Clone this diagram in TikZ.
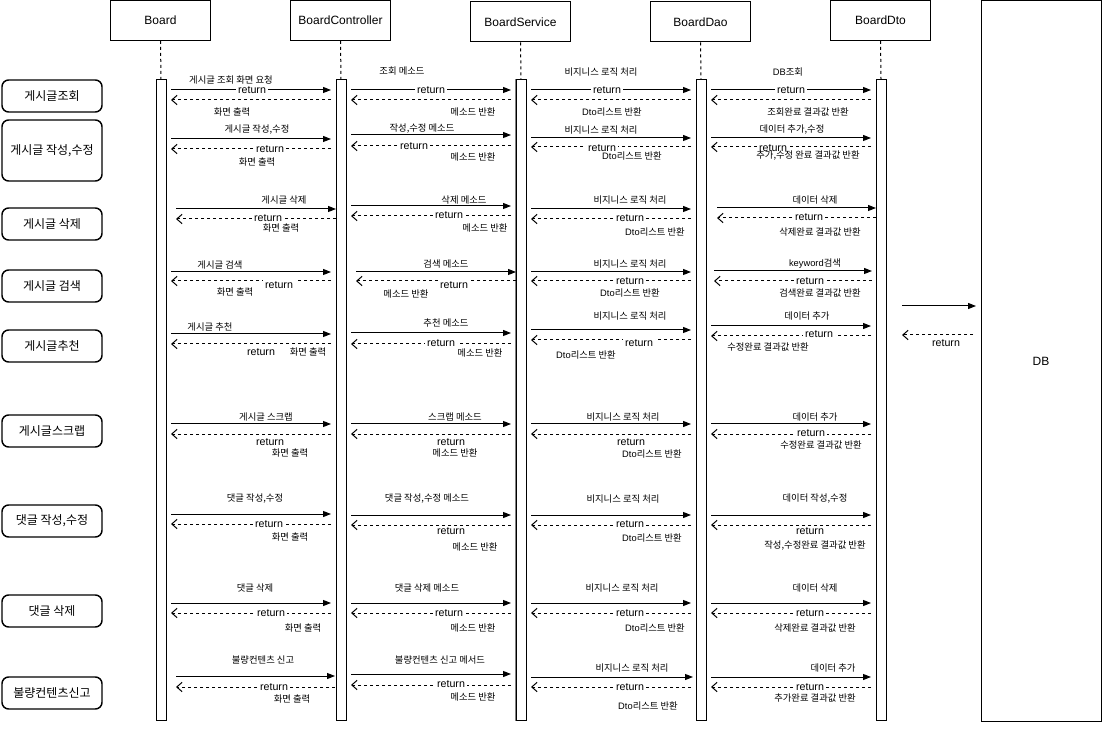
\documentclass[tikz,border=0pt]{standalone}
\usepackage{fontspec}
\setmainfont{Liberation Sans}
\newfontfamily\kr{Noto Sans CJK KR}
\newfontfamily\lat{Liberation Sans}
\usetikzlibrary{arrows.meta}
\tikzset{
  hdr/.style={draw, fill=white, minimum width=75pt, minimum height=30pt, font=\fontsize{9}{10}\selectfont, inner sep=0pt},
  actbar/.style={draw, fill=white, minimum width=7.5pt, minimum height=480pt, inner sep=0pt},
  lifeline/.style={dash pattern=on 2.25pt off 2.25pt},
  sidebox/.style={draw, rounded corners=5pt, line width=1.1pt, minimum width=75pt, minimum height=24pt, font=\kr\fontsize{9}{10}\selectfont, inner sep=0pt},
  lbl/.style={font=\kr\fontsize{7}{8}\selectfont, inner sep=0pt},
  retlbl/.style={font=\fontsize{8}{9}\selectfont, fill=white, inner xsep=1.5pt, inner ysep=1pt},
  callln/.style={-{Triangle[length=6pt,width=4.5pt]}},
  backln/.style={dash pattern=on 2.25pt off 2.25pt, -{Straight Barb[length=4pt,width=7pt]}},
}
\newcommand\call[4]{\coordinate (#1s) at (#2,#4);\coordinate (#1e) at (#3,#4);\draw[callln] (#1s) -- (#1e);}
\newcommand\back[4]{\coordinate (#1s) at (#2,#4);\coordinate (#1e) at (#3,#4);\draw[backln] (#1s) -- (#1e);}
\newcommand\lab[4]{\node[lbl] (#1) at (#2,#3) {#4};}
\newcommand\ret[3]{\node[retlbl] (#1) at (#2,#3) {return};}
\begin{document}
\begin{tikzpicture}[x=0.75pt, y=-0.75pt, line width=0.75pt]
\useasboundingbox (0,0) rectangle (1102,730);
% headers
\node[hdr] (hB) at (160.5,20.5) {Board};
\node[hdr] (hC) at (340.5,20.5) {BoardController};
\node[hdr] (hS) at (520.5,22) {BoardService};
\node[hdr] (hD) at (700.5,22) {BoardDao};
\node[hdr] (hT) at (880.5,20.5) {BoardDto};
\node[draw, minimum width=90pt, minimum height=540pt, inner sep=0pt, font=\fontsize{9}{10}\selectfont] (db) at (1041,361) {DB};
% activation bars
\node[actbar] (bB) at (161,400) {};
\node[actbar] (bC) at (341,400) {};
\node[actbar] (bS) at (521,400) {};
\draw[black!50, line width=1.3pt] (bS.north west) -- (bS.south west);
\node[actbar] (bD) at (701,400) {};
\node[actbar] (bT) at (881,400) {};
\foreach \h/\b in {hB/bB,hC/bC,hS/bS,hD/bD,hT/bT}{\draw[lifeline] (\h.south) -- (\b.north);}
% side labels
\node[sidebox] (s1) at (52,96) {게시글조회};
\node[sidebox, minimum height=45.75pt] (s2) at (52,150.5) {게시글 작성,수정};
\node[sidebox] (s3) at (52,224) {게시글 삭제};
\node[sidebox] (s4) at (52,286) {게시글 검색};
\node[sidebox] (s5) at (52,346) {게시글추천};
\node[sidebox] (s6) at (52,431) {게시글스크랩};
\node[sidebox] (s7) at (52,521) {댓글 작성,수정};
\node[sidebox] (s8) at (52,611) {댓글 삭제};
\node[sidebox] (s9) at (52,693) {불량컨텐츠신고};
% ---------- row 1
\lab{t1a}{231}{80}{게시글 조회 화면 요청}
\call{c1a}{171}{331}{90}\ret{q1a}{252}{90}
\back{d1a}{331}{171}{100}
\lab{u1a}{232}{112}{화면 출력}
\lab{t1b}{402}{71}{조회 메소드}
\call{c1b}{351}{511}{90}\ret{q1b}{431}{90}
\back{d1b}{511}{351}{100}
\lab{u1b}{473}{112}{메소드 반환}
\lab{t1c}{601}{72}{비지니스 로직 처리}
\call{c1c}{531}{691}{90}\ret{q1c}{607}{90}
\back{d1c}{691}{531}{100}
\lab{u1c}{612}{112}{{\lat Dto}리스트 반환}
\lab{t1d}{788}{72}{{\lat DB}조회}
\call{c1d}{711}{871}{90}\ret{q1d}{791}{90}
\back{d1d}{871}{711}{100}
\lab{u1d}{808}{112}{조회완료 결과값 반환}
% ---------- row 2
\lab{t2a}{257}{130}{게시글 작성,수정}
\call{c2a}{171}{331}{139}
\back{d2a}{331}{171}{149}\ret{q2a}{270}{149}
\lab{u2a}{257}{162}{화면 출력}
\lab{t2b}{422}{129}{작성,수정 메소드}
\call{c2b}{351}{511}{135}
\back{d2b}{511}{351}{146}\ret{q2b}{414}{146}
\lab{u2b}{473}{157}{메소드 반환}
\lab{t2c}{601}{130}{비지니스 로직 처리}
\call{c2c}{531}{691}{138}
\back{d2c}{691}{531}{147}\ret{q2c}{602}{148}
\lab{u2c}{632}{156}{{\lat Dto}리스트 반환}
\lab{t2d}{792}{130}{데이터 추가,수정}
\call{c2d}{711}{871}{138}
\back{d2d}{871}{711}{147}\ret{q2d}{773}{148}
\lab{u2d}{808}{156}{추가,수정 완료 결과값 반환}
% ---------- row 3
\lab{t3a}{284}{200}{게시글 삭제}
\call{c3a}{176}{336}{209}
\back{d3a}{336}{176}{219}\ret{q3a}{268}{218}
\lab{u3a}{281}{228}{화면 출력}
\lab{t3b}{464}{200}{삭제 메소드}
\call{c3b}{351}{511}{206}
\back{d3b}{511}{351}{216}\ret{q3b}{449}{215}
\lab{u3b}{485}{228}{메소드 반환}
\lab{t3c}{630}{200}{비지니스 로직 처리}
\call{c3c}{531}{691}{209}
\back{d3c}{691}{531}{219}\ret{q3c}{630}{218}
\lab{u3c}{655}{232}{{\lat Dto}리스트 반환}
\lab{t3d}{815}{200}{데이터 삭제}
\call{c3d}{717}{876}{208}
\back{d3d}{876}{717}{218}\ret{q3d}{809}{217}
\lab{u3d}{820}{232}{삭제완료 결과값 반환}
% ---------- row 4
\lab{t4a}{220}{265}{게시글 검색}
\call{c4a}{171}{331}{272}
\back{d4a}{331}{171}{281}\ret{q4a}{279}{285}
\lab{u4a}{235}{292}{화면 출력}
\lab{t4b}{446}{264}{검색 메소드}
\call{c4b}{356}{516}{272}
\back{d4b}{516}{356}{281}\ret{q4b}{454}{285}
\lab{u4b}{406}{294}{메소드 반환}
\lab{t4c}{630}{264}{비지니스 로직 처리}
\call{c4c}{531}{691}{272}
\back{d4c}{691}{531}{281}\ret{q4c}{630}{281}
\lab{u4c}{630}{293}{{\lat Dto}리스트 반환}
\lab{t4d}{815}{264}{{\lat keyword}검색}
\call{c4d}{714}{872}{271}
\back{d4d}{872}{714}{281}\ret{q4d}{810}{281}
\lab{u4d}{820}{293}{검색완료 결과값 반환}
% ---------- row 5
\lab{t5a}{210}{327}{게시글 추천}
\call{c5a}{171}{331}{334}
\back{d5a}{331}{171}{344}\ret{q5a}{261}{352}
\lab{u5a}{308}{352}{화면 출력}
\lab{t5b}{446}{323}{추천 메소드}
\call{c5b}{351}{511}{333}
\back{d5b}{511}{351}{344}\ret{q5b}{441}{343}
\lab{u5b}{480}{353}{메소드 반환}
\lab{t5c}{630}{316}{비지니스 로직 처리}
\call{c5c}{531}{691}{330}
\back{d5c}{691}{531}{340}\ret{q5c}{639}{343}
\lab{u5c}{586}{355}{{\lat Dto}리스트 반환}
\lab{t5d}{807}{316}{데이터 추가}
\call{c5d}{711}{871}{326}
\back{d5d}{871}{711}{336}\ret{q5d}{819}{334}
\lab{u5d}{768}{347}{수정완료 결과값 반환}
\call{c5e}{902}{976}{306}
\back{d5e}{973}{902}{335}\ret{q5e}{946}{343}
% ---------- row 6
\lab{t6a}{266}{417}{게시글 스크랩}
\call{c6a}{171}{331}{424}
\back{d6a}{331}{171}{434}\ret{q6a}{270}{442}
\lab{u6a}{290}{453}{화면 출력}
\lab{t6b}{455}{417}{스크랩 메소드}
\call{c6b}{351}{511}{424}
\back{d6b}{511}{351}{434}\ret{q6b}{451}{442}
\lab{u6b}{455}{453}{메소드 반환}
\lab{t6c}{623}{417}{비지니스 로직 처리}
\call{c6c}{531}{691}{424}
\back{d6c}{691}{531}{434}\ret{q6c}{631}{442}
\lab{u6c}{652}{454}{{\lat Dto}리스트 반환}
\lab{t6d}{815}{417}{데이터 추가}
\call{c6d}{711}{871}{424}
\back{d6d}{871}{711}{434}\ret{q6d}{811}{433}
\lab{u6d}{821}{445}{수정완료 결과값 반환}
% ---------- row 7
\lab{t7a}{255}{499}{댓글 작성,수정}
\call{c7a}{171}{331}{514}
\back{d7a}{331}{171}{524}\ret{q7a}{269}{524}
\lab{u7a}{290}{537}{화면 출력}
\lab{t7b}{427}{499}{댓글 작성,수정 메소드}
\call{c7b}{351}{511}{515}
\back{d7b}{511}{351}{525}\ret{q7b}{451}{531}
\lab{u7b}{475}{547}{메소드 반환}
\lab{t7c}{623}{499}{비지니스 로직 처리}
\call{c7c}{531}{691}{515}
\back{d7c}{691}{531}{525}\ret{q7c}{630}{524}
\lab{u7c}{652}{538}{{\lat Dto}리스트 반환}
\lab{t7d}{815}{499}{데이터 작성,수정}
\call{c7d}{711}{871}{515}
\back{d7d}{871}{711}{525}\ret{q7d}{810}{531}
\lab{u7d}{815}{546}{작성,수정완료 결과값 반환}
% ---------- row 8
\lab{t8a}{255}{588}{댓글 삭제}
\call{c8a}{171}{331}{603}
\back{d8a}{331}{171}{613}\ret{q8a}{271}{613}
\lab{u8a}{303}{628}{화면 출력}
\lab{t8b}{427}{588}{댓글 삭제 메소드}
\call{c8b}{351}{511}{603}
\back{d8b}{511}{351}{613}\ret{q8b}{449}{613}
\lab{u8b}{473}{628}{메소드 반환}
\lab{t8c}{622}{588}{비지니스 로직 처리}
\call{c8c}{531}{691}{603}
\back{d8c}{691}{531}{613}\ret{q8c}{630}{613}
\lab{u8c}{655}{628}{{\lat Dto}리스트 반환}
\lab{t8d}{815}{588}{데이터 삭제}
\call{c8d}{711}{871}{603}
\back{d8d}{871}{711}{613}\ret{q8d}{810}{613}
\lab{u8d}{815}{628}{삭제완료 결과값 반환}
% ---------- row 9
\lab{t9a}{263}{660}{불량컨텐츠 신고}
\call{c9a}{176}{335}{676}
\back{d9a}{335}{176}{687}\ret{q9a}{274}{687}
\lab{u9a}{292}{699}{화면 출력}
\lab{t9b}{440}{660}{불량컨텐츠 신고 메서드}
\call{c9b}{351}{511}{674}
\back{d9b}{511}{351}{685}\ret{q9b}{451}{684}
\lab{u9b}{473}{697}{메소드 반환}
\lab{t9c}{632}{668}{비지니스 로직 처리}
\call{c9c}{531}{693}{677}
\back{d9c}{691}{531}{687}\ret{q9c}{630}{687}
\lab{u9c}{648}{706}{{\lat Dto}리스트 반환}
\lab{t9d}{833}{668}{데이터 추가}
\call{c9d}{711}{871}{677}
\back{d9d}{871}{711}{687}\ret{q9d}{810}{687}
\lab{u9d}{815}{698}{추가완료 결과값 반환}
\end{tikzpicture}
\end{document}
